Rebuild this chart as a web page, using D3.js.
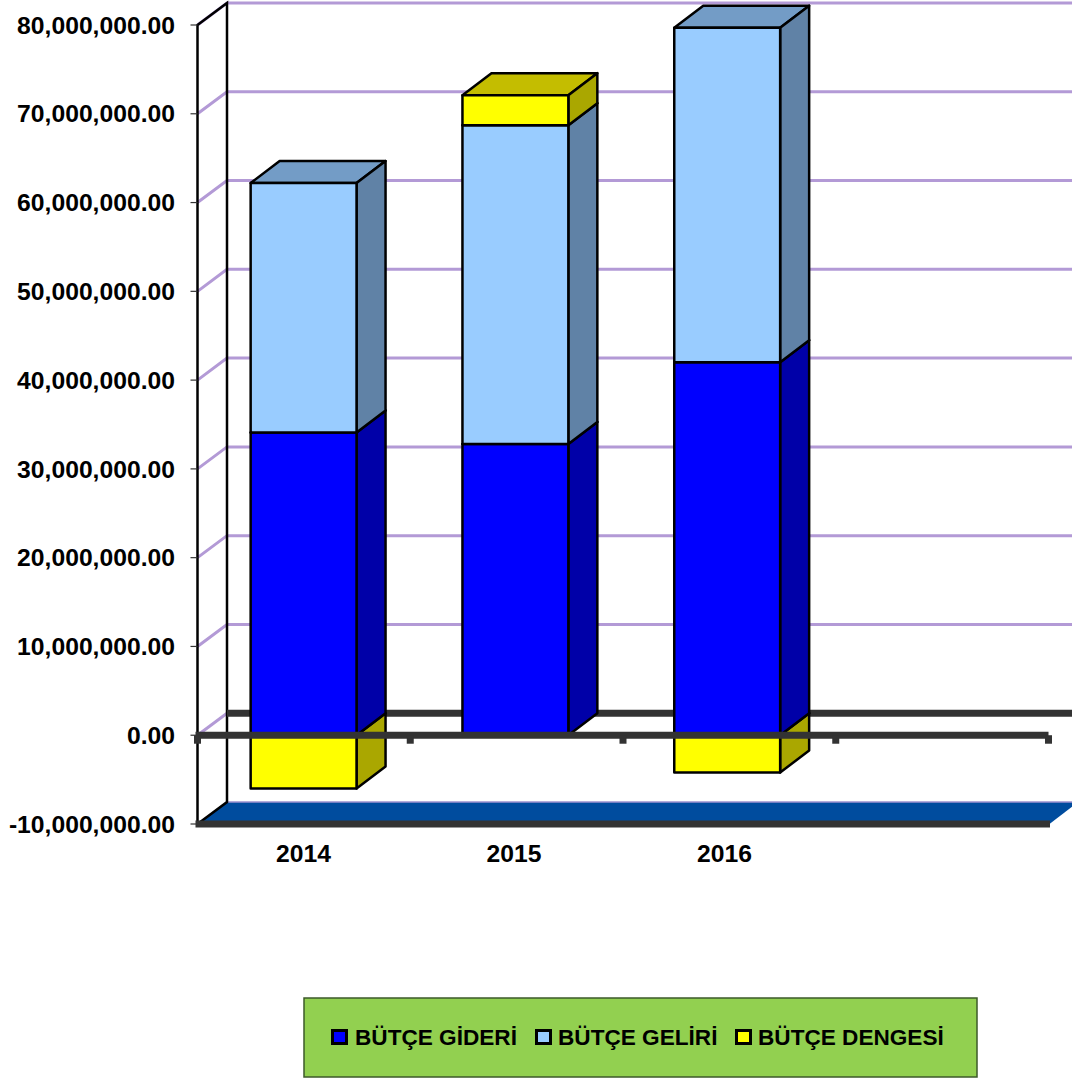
<!DOCTYPE html>
<html>
<head>
<meta charset="utf-8">
<style>
html,body{margin:0;padding:0;background:#fff;overflow:hidden}
svg{display:block}
text{font-family:"Liberation Sans",Arial,sans-serif;font-weight:bold;fill:#000}
</style>
<script src="https://cdn.jsdelivr.net/npm/d3@7"></script>
</head>
<body>
<svg id="chart" width="1072" height="1078"></svg>
<script>
// Budget figures per year, in lira
const years = ["2014", "2015", "2016"];
const butceGideri = [34100000, 32800000, 42000000];
const butceGeliri = [28100000, 35900000, 37700000];
const butceDengesi = [-6000000, 3400000, -4200000];
const seriesNames = ["BÜTÇE GİDERİ", "BÜTÇE GELİRİ", "BÜTÇE DENGESİ"];
const seriesFront = ["#0000ff", "#99ccff", "#ffff00"];
const seriesTop = ["#0000cc", "#739cc6", "#c4bd00"];
const seriesSide = ["#0000a8", "#6082a6", "#aaa700"];
const yTicks = [-10000000, 0, 10000000, 20000000, 30000000, 40000000, 50000000, 60000000, 70000000, 80000000];

const wallX = 29.5, wallY = -22, barX = 29, barY = -22;
const svg = d3.select("#chart");

const y = d3.scaleLinear().domain([-10000000, 80000000]).range([824, 25]);
// The category axis holds one empty slot after the last year
const x = d3.scaleBand().domain([...years, ""]).range([197.7, 1044.9]).padding(0.5).paddingOuter(0.25);
const left = 197.5, right = 1048.5;
const tickScale = d3.scalePoint().domain(d3.range(5)).range([left, right]);
const labelX = d3.scalePoint().domain(years).range([303.5, 724.5]);
const y0 = y(0), yMin = y(-10000000);
const fmt = d3.format(",.2f");

// Back wall gridlines, running along the side wall then across
const grid = svg.append("g");
grid.selectAll("path").data(yTicks.filter(t => t > 0)).join("path")
  .attr("d", t => `M${left},${y(t)}L${left + wallX},${y(t) + wallY}L1072,${y(t) + wallY}`)
  .attr("fill", "none").attr("stroke", "#b39ad6").attr("stroke-width", 3);
grid.append("path")
  .attr("d", `M${left},${y0}L${left + wallX},${y0 + wallY}`)
  .attr("fill", "none").attr("stroke", "#b39ad6").attr("stroke-width", 3);

// Floor
svg.append("path")
  .attr("d", `M${left},${yMin}L${left + wallX},${yMin + wallY}L1078,${yMin + wallY}L${right + 1},${yMin}Z`)
  .attr("fill", "#004c9e");
svg.append("path")
  .attr("d", `M${left + wallX},${yMin + wallY}L1072,${yMin + wallY}`)
  .attr("stroke", "#9d92cf").attr("stroke-width", 1.5);

// Side wall edges
svg.append("path")
  .attr("d", `M${left},${y(80000000)}L${left + wallX},${y(80000000) + wallY}L${left + wallX},${yMin + wallY}L${left},${yMin}Z`)
  .attr("fill", "none").attr("stroke", "#000").attr("stroke-width", 2.5);
// Value axis ticks
svg.append("g").selectAll("line").data(yTicks).join("line")
  .attr("x1", left - 7).attr("x2", left)
  .attr("y1", d => y(d)).attr("y2", d => y(d))
  .attr("stroke", "#333").attr("stroke-width", 1.2);

// Zero plane at the back
svg.append("line")
  .attr("x1", left + wallX).attr("x2", 1072)
  .attr("y1", y0 + wallY).attr("y2", y0 + wallY)
  .attr("stroke", "#333").attr("stroke-width", 7);

// One box: front face plus its top and right faces
function box(parent, bx, bw, yTop, yBottom, i) {
  const g = parent.append("g").attr("stroke", "#000").attr("stroke-width", 2.5).attr("stroke-linejoin", "round");
  g.append("path")
    .attr("d", `M${bx},${yTop}L${bx + barX},${yTop + barY}L${bx + bw + barX},${yTop + barY}L${bx + bw},${yTop}Z`)
    .attr("fill", seriesTop[i]);
  g.append("path")
    .attr("d", `M${bx + bw},${yTop}L${bx + bw + barX},${yTop + barY}L${bx + bw + barX},${yBottom + barY}L${bx + bw},${yBottom}Z`)
    .attr("fill", seriesSide[i]);
  g.append("rect").attr("x", bx).attr("y", yTop).attr("width", bw).attr("height", yBottom - yTop)
    .attr("fill", seriesFront[i]);
}

// Stacked columns; a negative balance hangs below zero
const bars = svg.append("g");
years.forEach((yr, k) => {
  const bx = x(yr), bw = x.bandwidth();
  if (butceDengesi[k] < 0) box(bars, bx, bw, y0, y(butceDengesi[k]), 2);
  let base = 0;
  [butceGideri[k], butceGeliri[k], Math.max(butceDengesi[k], 0)].forEach((v, i) => {
    if (v > 0) box(bars, bx, bw, y(base + v), y(base), i);
    base += v;
  });
});

// Front baselines with their category ticks
svg.append("line").attr("x1", left - 2).attr("x2", right).attr("y1", y0).attr("y2", y0)
  .attr("stroke", "#333").attr("stroke-width", 7);
svg.append("g").selectAll("rect").data(tickScale.domain()).join("rect")
  .attr("x", d => tickScale(d) - 3.5).attr("y", y0).attr("width", 7).attr("height", 8.5).attr("fill", "#333");
svg.append("line").attr("x1", left - 2).attr("x2", right + 1.5).attr("y1", yMin).attr("y2", yMin)
  .attr("stroke", "#333").attr("stroke-width", 7);

// Value axis labels, with a plain hyphen for negatives
svg.append("g").selectAll("text").data(yTicks).join("text")
  .attr("x", 175).attr("y", d => y(d)).attr("dy", "0.35em")
  .attr("text-anchor", "end").attr("font-size", 24.7)
  .text(d => fmt(d).replace("−", "-"));

// Category labels
svg.append("g").selectAll("text").data(years).join("text")
  .attr("x", d => labelX(d)).attr("y", 862)
  .attr("text-anchor", "middle").attr("font-size", 24.7)
  .text(d => d);

// Legend
svg.append("rect").attr("x", 304).attr("y", 998).attr("width", 673).attr("height", 79)
  .attr("fill", "#92d050").attr("stroke", "#3d5a2a").attr("stroke-width", 1.5);
const swatchX = [331, 535, 735];
const legendTextX = [355, 558, 758];
const legend = svg.append("g").selectAll("g").data(seriesNames).join("g");
legend.append("rect").attr("x", (d, i) => swatchX[i] + 1.5).attr("y", 1030.5).attr("width", 14).attr("height", 13)
  .attr("fill", (d, i) => seriesFront[i]).attr("stroke", "#000").attr("stroke-width", 3);
legend.append("text").attr("x", (d, i) => legendTextX[i]).attr("y", 1045).attr("font-size", 22.6).text(d => d);
</script>
</body>
</html>
